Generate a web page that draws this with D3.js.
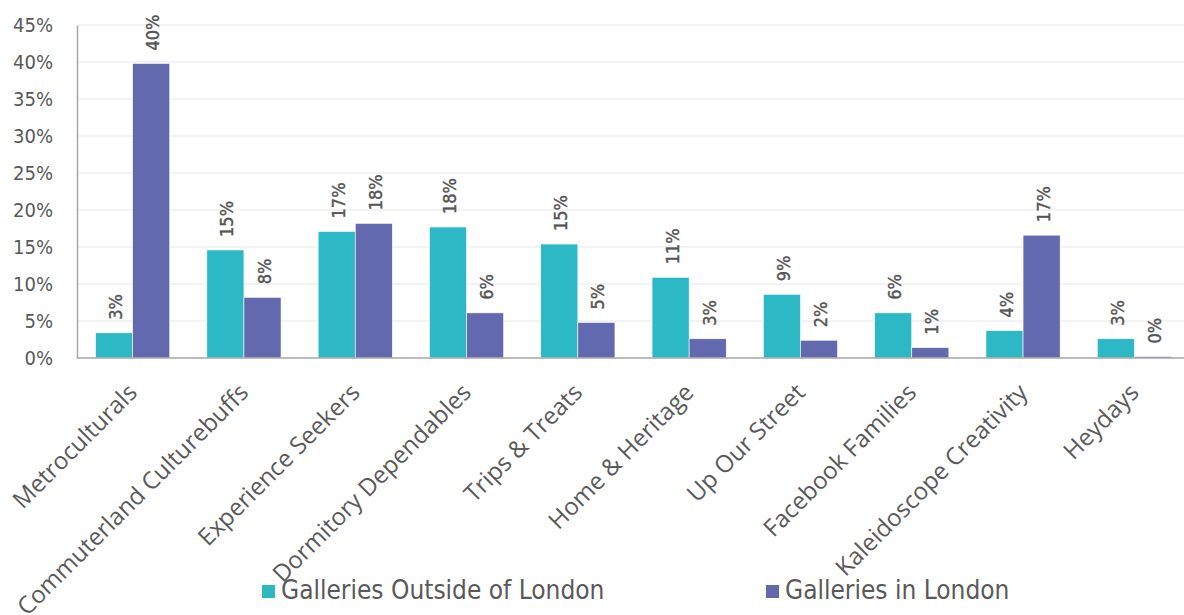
<!DOCTYPE html>
<html>
<head>
<meta charset="utf-8">
<script src="https://cdn.jsdelivr.net/npm/d3@7"></script>
<style>
    body { margin: 0; background: #fff; }
    .axis text { fill: #595959; }
</style>
</head>
<body>
<div id="chart"></div>
<script>

// data
let segments = ["Metroculturals", "Commuterland Culturebuffs", "Experience Seekers", "Dormitory Dependables",
    "Trips & Treats", "Home & Heritage", "Up Our Street", "Facebook Families", "Kaleidoscope Creativity", "Heydays"];
let outsideLondon = [3.4, 14.6, 17.1, 17.7, 15.4, 10.9, 8.6, 6.1, 3.7, 2.6];
let inLondon = [39.8, 8.2, 18.2, 6.1, 4.8, 2.6, 2.4, 1.4, 16.6, 0.2];
let seriesNames = ["Galleries Outside of London", "Galleries in London"];
let yTicks = [0, 5, 10, 15, 20, 25, 30, 35, 40, 45];

let colors = ["#2cb8c4", "#6369ae"];

let W = 1184, H = 615;
let margin = {top: 25, right: 0, bottom: 257, left: 77};
let width = W - margin.left - margin.right;
let height = H - margin.top - margin.bottom;

let svg = d3.select("#chart").append("svg")
    .attr("width", W)
    .attr("height", H)
    .append("g")
    .attr("transform", `translate(${margin.left}, ${margin.top})`);

// scales
let x = d3.scaleBand()
    .domain(segments)
    .range([0, 1113])
    .paddingInner(1 / 3)
    .paddingOuter(1 / 6);

let xInner = d3.scaleBand()
    .domain([0, 1])
    .range([0, x.bandwidth()]);

let y = d3.scaleLinear()
    .domain([0, 45])
    .range([height, 0]);

// gridlines
svg.append("g")
    .selectAll("line")
    .data(yTicks.slice(1))
    .enter().append("line")
    .attr("x1", 0)
    .attr("x2", width)
    .attr("y1", d => y(d))
    .attr("y2", d => y(d))
    .attr("stroke", "#efefef")
    .attr("stroke-width", 1.5);

// y axis
let yAxis = d3.axisLeft(y)
    .tickValues(yTicks)
    .tickFormat(d => d + "%")
    .tickSize(0)
    .tickPadding(24);

svg.append("g")
    .attr("class", "axis y-axis")
    .call(yAxis)
    .call(g => g.select(".domain").attr("stroke", "#a6a6a6").attr("stroke-width", 1.5))
    .selectAll("text")
    .attr("font-family", "DejaVu Sans Condensed")
    .attr("font-size", 20);

// bars
let rows = segments.map((s, i) => ({seg: s, vals: [outsideLondon[i], inLondon[i]]}));

let groups = svg.selectAll(".group")
    .data(rows)
    .enter().append("g")
    .attr("class", "group")
    .attr("transform", d => `translate(${x(d.seg)}, 0)`);

groups.selectAll("rect")
    .data(d => d.vals.map((v, k) => ({v: v, k: k})))
    .enter().append("rect")
    .attr("x", d => xInner(d.k))
    .attr("y", d => y(d.v))
    .attr("width", xInner.bandwidth())
    .attr("height", d => height - y(d.v))
    .attr("fill", d => colors[d.k])
    .attr("stroke", "#fff")
    .attr("stroke-width", 0.6);

// value labels, rotated
groups.selectAll(".label")
    .data(d => d.vals.map((v, k) => ({v: v, k: k})))
    .enter().append("text")
    .attr("class", "label")
    .attr("transform", d => `translate(${xInner(d.k) + xInner.bandwidth() / 2 + 8}, ${y(d.v) - 13}) rotate(-90)`)
    .attr("font-family", "DejaVu Sans Condensed")
    .attr("font-size", 18)
    .attr("fill", "#555")
    .attr("stroke", "#555")
    .attr("stroke-width", 0.4)
    .text(d => Math.round(d.v) + "%");

// x axis line
svg.append("line")
    .attr("x1", 0)
    .attr("x2", width)
    .attr("y1", height)
    .attr("y2", height)
    .attr("stroke", "#a6a6a6")
    .attr("stroke-width", 1.5);

// x labels
svg.append("g")
    .selectAll("text")
    .data(segments)
    .enter().append("text")
    .attr("transform", d => `translate(${x(d) + x.bandwidth() / 2 + 6}, ${height + 36}) rotate(-45)`)
    .attr("text-anchor", "end")
    .attr("font-family", "Open Sans")
    .attr("font-size", 24)
    .attr("fill", "#595959")
    .text(d => d);

// legend
let legendX = [185, 689];
let legend = svg.selectAll(".legend")
    .data(seriesNames)
    .enter().append("g")
    .attr("class", "legend")
    .attr("transform", (d, i) => `translate(${legendX[i]}, ${height + 227})`);

legend.append("rect")
    .attr("width", 13)
    .attr("height", 13)
    .attr("fill", (d, i) => colors[i]);

legend.append("text")
    .attr("x", 19)
    .attr("y", 14)
    .attr("font-family", "DejaVu Sans Condensed")
    .attr("font-size", 26)
    .attr("fill", "#595959")
    .text(d => d);

</script>
</body>
</html>
